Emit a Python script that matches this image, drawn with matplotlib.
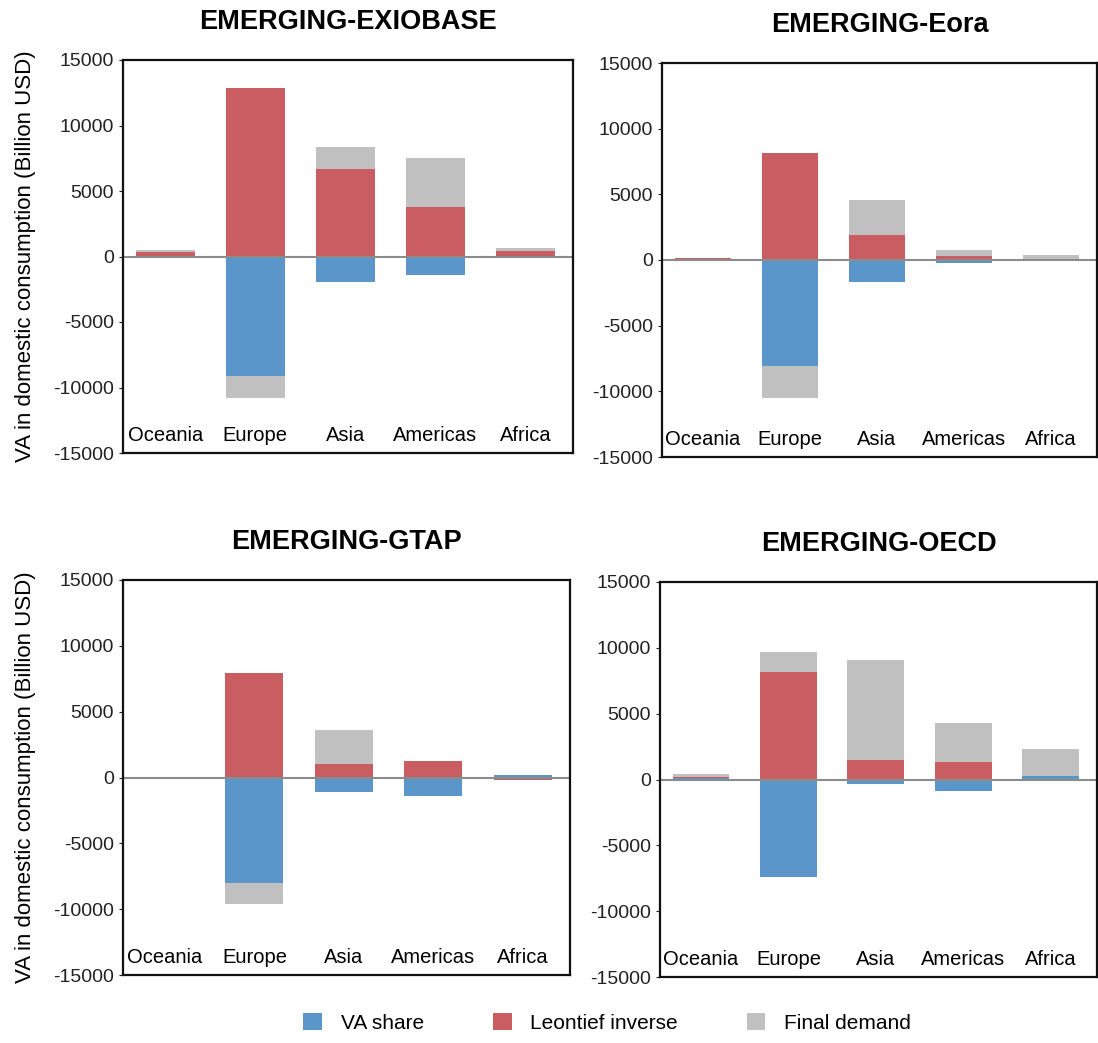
import numpy as np
import matplotlib.pyplot as plt

plt.rcParams['font.family'] = ['Liberation Sans', 'DejaVu Sans']
plt.rcParams['axes.unicode_minus'] = False

regions = ['Oceania', 'Europe', 'Asia', 'Americas', 'Africa']
series = ['VA share', 'Leontief inverse', 'Final demand']
colors = ['#5b96ca', '#c95d62', '#c0c0c0']

# values (billion USD)
exiobase_va = [-100, -9100, -1950, -1380, 60]
exiobase_leontief = [310, 12850, 6700, 3750, 370]
exiobase_fd = [150, -1730, 1650, 3780, 230]

eora_va = [-40, -8050, -1680, -200, 100]
eora_leontief = [130, 8180, 1880, 300, -60]
eora_fd = [40, -2460, 2700, 490, 260]

gtap_va = [0, -8050, -1090, -1400, 180]
gtap_leontief = [-50, 7900, 1020, 1270, -180]
gtap_fd = [0, -1560, 2590, 0, 0]

oecd_va = [120, -7400, -330, -840, 250]
oecd_leontief = [60, 8200, 1450, 1350, -130]
oecd_fd = [200, 1520, 7600, 2960, 2030]

panels = [
    ('EMERGING-EXIOBASE', [exiobase_va, exiobase_leontief, exiobase_fd]),
    ('EMERGING-Eora', [eora_va, eora_leontief, eora_fd]),
    ('EMERGING-GTAP', [gtap_va, gtap_leontief, gtap_fd]),
    ('EMERGING-OECD', [oecd_va, oecd_leontief, oecd_fd]),
]

# axes boxes in pixels: left, top, right, bottom
boxes = [(123, 60, 573, 453), (662, 63, 1097, 457),
         (123, 580, 570, 975), (660, 582, 1097, 977)]
W, H = 1098, 1043

fig = plt.figure(figsize=(W / 100, H / 100), dpi=100)
x = np.arange(len(regions))

for (title, data), (l, t, r, b) in zip(panels, boxes):
    ax = fig.add_axes([l / W, 1 - b / H, (r - l) / W, (b - t) / H])
    pos = np.zeros(len(regions))
    neg = np.zeros(len(regions))
    for vals, name, c in zip(data, series, colors):
        vals = np.array(vals, dtype=float)
        bottom = np.where(vals >= 0, pos, neg)
        ax.bar(x, vals, 0.65, bottom=bottom, color=c, label=name)
        pos += np.clip(vals, 0, None)
        neg += np.clip(vals, None, 0)
    ax.axhline(0, color='#8c8c8c', lw=1.5)
    ax.set_xlim(-0.47, 4.53)
    ax.set_ylim(-15000, 15000)
    ax.set_yticks(np.arange(-15000, 15001, 5000))
    ax.tick_params(axis='y', labelsize=14, length=3, colors='#222222')
    ax.set_xticks([])
    for i, name in enumerate(regions):
        ax.text(i, -13700, name, ha='center', va='center', fontsize=14.5)
    for s in ax.spines.values():
        s.set_linewidth(1.6)
        s.set_color('#111111')
    ax.set_title(title, fontsize=19.5, fontweight='bold', pad=22)
    if l < 300:
        ax.set_ylabel('VA in domestic consumption (Billion USD)', fontsize=16, labelpad=12)

handles, labels = ax.get_legend_handles_labels()
fig.legend(handles, labels, loc='lower center', bbox_to_anchor=(0.553, -0.008), ncol=3,
           frameon=False, fontsize=15, handlelength=0.9, handleheight=0.9,
           columnspacing=3.3, handletextpad=0.9)

fig.savefig('out.png', dpi=100)
